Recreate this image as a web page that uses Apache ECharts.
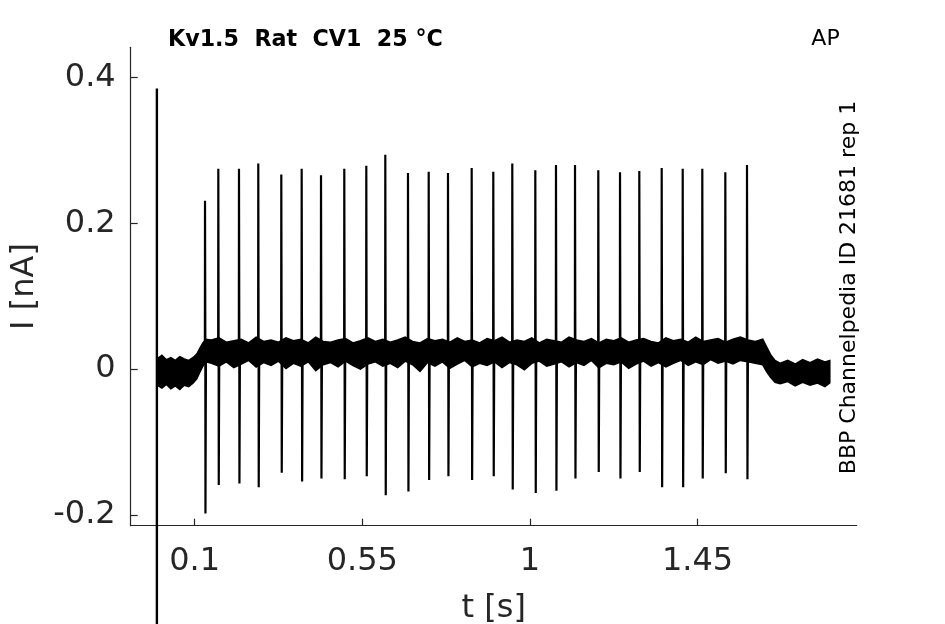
<!DOCTYPE html>
<html>
<head>
<meta charset="utf-8">
<script src="https://cdn.jsdelivr.net/npm/echarts@6/dist/echarts.min.js"></script>
<style>
html,body{margin:0;padding:0;background:#fff;}
#chart{width:945px;height:624px;}
</style>
</head>
<body>
<div id="chart"></div>
<script>
// ---- data ----
const xTickValues = [0.1, 0.55, 1, 1.45];
const yTickValues = [-0.2, 0, 0.2, 0.4];

// stimulus artefact at t ~ 0
const artefactTime = -0.0015;
const artefactTop = 0.385;
const artefactBottom = -0.45;

// spike times [s], peak and trough currents [nA]
const spikeTimes = [0.1277,0.1634,0.2189,0.2707,0.3325,0.3872,0.4391,0.5016,0.5607,0.6117,
  0.6726,0.7282,0.7800,0.8436,0.9016,0.9526,1.0144,1.0699,1.1210,1.1835,
  1.2418,1.2936,1.3537,1.4101,1.4627,1.5245,1.5827];
const spikePeaks = [0.231,0.275,0.275,0.282,0.267,0.275,0.266,0.275,0.279,0.294,
  0.269,0.271,0.269,0.276,0.271,0.282,0.273,0.280,0.280,0.273,
  0.270,0.272,0.276,0.275,0.275,0.270,0.280];
const spikeTroughs = [-0.198,-0.159,-0.157,-0.162,-0.142,-0.154,-0.150,-0.151,-0.147,-0.173,
  -0.168,-0.152,-0.147,-0.152,-0.147,-0.165,-0.170,-0.167,-0.150,-0.141,
  -0.150,-0.141,-0.162,-0.162,-0.150,-0.143,-0.151];
const spikeBase = 0.024;

// noisy baseline envelope (upper / lower edge of the trace)
const bandTime = [-0.001,0.012,0.024,0.036,0.048,0.060,0.072,0.084,0.096,
  0.106,0.114,0.122,0.130,
  0.145,0.165,0.185,0.205,0.225,0.245,0.265,0.285,0.305,0.325,
  0.345,0.365,0.385,0.405,0.425,0.445,0.465,0.485,0.505,0.525,
  0.545,0.565,0.585,0.605,0.625,0.645,0.665,0.685,0.705,0.725,
  0.745,0.765,0.785,0.805,0.825,0.845,0.865,0.885,0.905,0.925,
  0.945,0.965,0.985,1.005,1.025,1.045,1.065,1.085,1.105,1.125,
  1.145,1.165,1.185,1.205,1.225,1.245,1.265,1.285,1.305,1.325,
  1.345,1.365,1.385,1.405,1.425,1.445,1.465,1.485,1.505,1.525,
  1.545,1.565,1.585,1.605,
  1.625,1.636,1.647,1.658,
  1.672,1.692,1.712,1.732,1.752,1.772,1.792,1.805];
const bandUpper = [0.014,0.019,0.013,0.016,0.012,0.017,0.014,0.012,0.016,
  0.021,0.029,0.036,0.041,
  0.040,0.043,0.037,0.039,0.041,0.036,0.044,0.038,0.040,0.037,
  0.043,0.039,0.041,0.036,0.044,0.038,0.037,0.040,0.042,0.036,
  0.039,0.043,0.038,0.041,0.037,0.040,0.044,0.038,0.036,0.042,
  0.039,0.041,0.037,0.043,0.038,0.040,0.036,0.042,0.039,0.044,
  0.037,0.040,0.038,0.043,0.036,0.041,0.039,0.037,0.044,0.040,
  0.038,0.042,0.036,0.041,0.039,0.043,0.037,0.040,0.042,0.038,
  0.036,0.043,0.039,0.041,0.037,0.044,0.038,0.040,0.042,0.037,
  0.041,0.044,0.040,0.038,
  0.041,0.030,0.019,0.012,
  0.008,0.012,0.007,0.013,0.009,0.014,0.010,0.012];
const bandLower = [-0.022,-0.026,-0.021,-0.027,-0.023,-0.028,-0.022,-0.024,-0.019,
  -0.013,-0.004,0.004,0.010,
  0.008,0.004,0.010,0.002,0.007,0.012,0.003,0.009,0.005,0.011,
  0.001,0.008,0.004,0.010,-0.002,0.006,0.009,0.003,0.011,0.005,
  0.000,0.007,0.010,0.004,0.008,0.002,0.011,0.006,-0.003,0.009,
  0.004,0.010,0.001,0.007,0.012,0.003,0.008,0.005,0.010,0.002,
  0.009,0.006,-0.001,0.008,0.011,0.004,0.007,0.010,0.003,0.009,
  0.005,0.012,0.002,0.008,0.006,0.010,0.001,0.007,0.011,0.004,
  0.009,0.003,0.008,0.012,0.005,0.010,0.006,0.013,0.008,0.011,
  0.007,0.012,0.010,0.008,
  0.006,-0.004,-0.012,-0.018,
  -0.020,-0.017,-0.023,-0.018,-0.022,-0.019,-0.024,-0.019];

// ---- build series data ----
const bandData = bandTime.map((t, i) => [t, bandLower[i], bandUpper[i]]);

const spikeData = [];
spikeTimes.forEach((t, i) => {
  spikeData.push([t - 0.0004, spikeBase]);
  spikeData.push([t, spikePeaks[i]]);
  spikeData.push([t + 0.0008, 0.045]);
  spikeData.push([t + 0.0012, spikeTroughs[i]]);
  spikeData.push([t + 0.0025, spikeBase - 0.004]);
});
const artefactData = [[artefactTime, artefactBottom], [artefactTime, artefactTop]];

const FONT = 'DejaVu Sans';
const AXIS_COLOR = '#262626';

const chart = echarts.init(document.getElementById('chart'), null, {renderer: 'canvas'});
chart.setOption({
  animation: false,
  backgroundColor: '#ffffff',
  grid: {left: 130.7, right: 88.3, top: 47.3, bottom: 98.3, containLabel: false, outerBoundsMode: 'none'},
  xAxis: {
    type: 'value',
    min: -0.0718,
    max: 1.8772,
    name: 't [s]',
    nameLocation: 'middle',
    nameGap: 67,
    nameTextStyle: {fontFamily: FONT, fontSize: 32, color: AXIS_COLOR},
    axisLine: {show: true, onZero: false, lineStyle: {color: AXIS_COLOR, width: 1.2}},
    axisTick: {show: true, inside: true, length: 7, customValues: xTickValues, lineStyle: {color: AXIS_COLOR, width: 1.2}},
    axisLabel: {show: true, customValues: xTickValues, margin: 20, fontFamily: FONT, fontSize: 32, color: AXIS_COLOR},
    splitLine: {show: false}
  },
  yAxis: {
    type: 'value',
    min: -0.2148,
    max: 0.4416,
    name: 'I [nA]',
    nameLocation: 'middle',
    nameGap: 90,
    nameTextStyle: {fontFamily: FONT, fontSize: 32, color: AXIS_COLOR},
    axisLine: {show: true, onZero: false, lineStyle: {color: AXIS_COLOR, width: 1.2}},
    axisTick: {show: true, inside: true, length: 7, customValues: yTickValues, lineStyle: {color: AXIS_COLOR, width: 1.2}},
    axisLabel: {show: true, customValues: yTickValues, margin: 15, fontFamily: FONT, fontSize: 32, color: AXIS_COLOR},
    splitLine: {show: false}
  },
  graphic: [
    {type: 'text', x: 168, y: 40, style: {text: 'Kv1.5  Rat  CV1  25 °C', font: 'bold 22.2px "DejaVu Sans"', fill: '#000', align: 'left', verticalAlign: 'middle'}},
    {type: 'text', x: 825.5, y: 39, style: {text: 'AP', font: '22px "DejaVu Sans"', fill: '#000', align: 'center', verticalAlign: 'middle'}},
    {type: 'text', x: 849.5, y: 287.5, rotation: Math.PI / 2, style: {text: 'BBP Channelpedia ID 21681 rep 1', font: '22px "DejaVu Sans"', fill: '#000', align: 'center', verticalAlign: 'middle'}}
  ],
  series: [
    {
      type: 'custom',
      data: bandData,
      silent: true,
      encode: {x: 0, y: [1, 2]},
      renderItem: function (params, api) {
        if (params.dataIndex !== 0) return null;
        const pts = [];
        for (let i = 0; i < bandData.length; i++) pts.push(api.coord([bandData[i][0], bandData[i][2]]));
        for (let i = bandData.length - 1; i >= 0; i--) pts.push(api.coord([bandData[i][0], bandData[i][1]]));
        return {type: 'polygon', shape: {points: pts}, style: {fill: '#000', stroke: '#000', lineWidth: 1.5}};
      }
    },
    {
      type: 'line', data: spikeData, symbol: 'none', silent: true,
      lineStyle: {color: '#000', width: 2.2}
    },
    {
      type: 'line', data: artefactData, symbol: 'none', silent: true, clip: false,
      lineStyle: {color: '#000', width: 2.4}
    }
  ]
});
</script>
</body>
</html>
